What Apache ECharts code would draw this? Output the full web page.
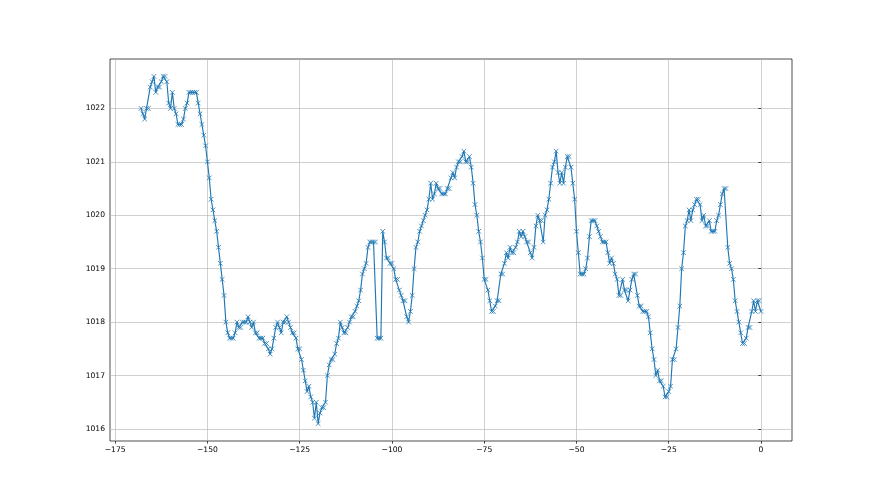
<!DOCTYPE html>
<html>
<head>
<meta charset="utf-8">
<script src="https://cdn.jsdelivr.net/npm/echarts@6/dist/echarts.min.js"></script>
<style>
html,body{margin:0;padding:0;background:#fff;}
#chart{width:880px;height:495px;}
</style>
</head>
<body>
<div id="chart"></div>
<script>
// Half-hourly readings, hours relative to now (-168 .. 0)
const startHour = -168;
const stepHour = 0.5;
const day1 = [1022.0,1021.9,1021.8,1022.0,1022.0,1022.4,1022.5,1022.6,1022.3,1022.4,
  1022.4,1022.5,1022.6,1022.6,1022.5,1022.1,
  1022.0,1022.3,1022.0,1021.9,
  1021.7,1021.7,1021.7,1021.8,
  1022.0,1022.1,1022.3,1022.3,
  1022.3,1022.3,1022.3,1022.1,
  1021.9,1021.7,1021.5,1021.3,
  1021.0,1020.7,1020.3,1020.1,
  1019.9,1019.7,1019.4,1019.1,
  1018.8,1018.5,1018.0,1017.8];
const day2 = [1017.7,1017.7,1017.7,1017.8,
  1018.0,1017.9,1017.9,1018.0,
  1018.0,1018.0,1018.1,1018.0,
  1017.9,1018.0,1017.8,1017.8,
  1017.7,1017.7,1017.7,1017.6,
  1017.6,1017.5,1017.4,1017.5,
  1017.7,1017.9,1018.0,1017.9,
  1017.8,1018.0,1018.0,1018.1,
  1018.0,1017.9,1017.8,1017.8,
  1017.7,1017.5,1017.5,1017.3,
  1017.1,1016.9,1016.7,1016.8,
  1016.6,1016.5,1016.2,1016.5];
const day3 = [1016.1,1016.3,1016.4,1016.4,
  1016.5,1017.0,1017.2,1017.3,
  1017.3,1017.4,1017.6,1017.7,
  1018.0,1017.9,1017.8,1017.8,
  1017.9,1018.0,1018.1,1018.1,
  1018.2,1018.3,1018.4,1018.6,
  1018.9,1019.0,1019.1,1019.4,
  1019.5,1019.5,1019.5,1019.5,
  1017.7,1017.7,1017.7,1019.7,
  1019.5,1019.2,1019.2,1019.1,
  1019.1,1019.0,1018.8,1018.8,
  1018.6,1018.5,1018.4,1018.4];
const day4 = [1018.1,1018.0,1018.2,1018.5,
  1019.0,1019.4,1019.5,1019.7,
  1019.8,1019.9,1020.0,1020.1,
  1020.3,1020.6,1020.3,1020.4,
  1020.6,1020.5,1020.5,1020.4,
  1020.4,1020.4,1020.5,1020.5,
  1020.7,1020.8,1020.7,1020.9,
  1021.0,1021.0,1021.1,1021.2,
  1021.0,1021.0,1021.1,1020.9,
  1020.6,1020.2,1020.0,1019.7,
  1019.5,1019.2,1018.8,1018.8,
  1018.6,1018.4,1018.2,1018.2];
const day5 = [1018.3,1018.4,1018.4,1018.9,
  1018.9,1019.1,1019.3,1019.2,
  1019.4,1019.3,1019.3,1019.4,
  1019.5,1019.7,1019.6,1019.7,
  1019.6,1019.5,1019.5,1019.3,
  1019.2,1019.4,1019.8,1020.0,
  1019.9,1019.9,1019.5,1020.0,
  1020.1,1020.3,1020.6,1020.9,
  1021.0,1021.2,1020.8,1020.6,
  1020.8,1020.6,1020.9,1021.1,
  1021.1,1020.9,1020.6,1020.3,
  1019.7,1019.3,1018.9,1018.9];
const day6 = [1018.9,1019.0,1019.2,1019.6,
  1019.9,1019.9,1019.9,1019.8,
  1019.7,1019.6,1019.5,1019.5,
  1019.5,1019.3,1019.1,1019.2,
  1019.1,1018.9,1018.8,1018.5,
  1018.5,1018.8,1018.6,1018.6,
  1018.4,1018.6,1018.8,1018.9,
  1018.9,1018.5,1018.3,1018.3,
  1018.2,1018.2,1018.2,1018.1,
  1017.8,1017.5,1017.3,1017.0,
  1017.1,1016.9,1016.9,1016.8,
  1016.6,1016.6,1016.7,1016.8];
const day7 = [1017.3,1017.3,1017.5,1017.9,
  1018.3,1019.0,1019.3,1019.8,
  1019.9,1020.1,1019.9,1020.1,
  1020.2,1020.3,1020.3,1020.2,
  1019.9,1020.0,1019.8,1019.8,
  1019.9,1019.7,1019.7,1019.7,
  1019.9,1020.0,1020.2,1020.4,
  1020.5,1020.5,1019.4,1019.1,
  1019.0,1018.8,1018.4,1018.2,
  1018.0,1017.8,1017.6,1017.6,
  1017.7,1017.9,1017.9,1018.2,
  1018.4,1018.2,1018.4,1018.4,
  1018.2];
const xTicks = [-175,-150,-125,-100,-75,-50,-25,0];
const yTicks = [1016,1017,1018,1019,1020,1021,1022];

const pressure = [].concat(day1,day2,day3,day4,day5,day6,day7);
const seriesData = pressure.map((v,i)=>[startHour + i*stepHour, v]);

const minus = s => String(s).replace('-', '\u2212');
const chart = echarts.init(document.getElementById('chart'), null, {renderer:'canvas'});
const font = 'DejaVu Sans';
chart.setOption({
  animation:false,
  backgroundColor:'#ffffff',
  grid:{left:110,right:88,top:59,bottom:54,show:true,borderColor:'#000',borderWidth:0.7,backgroundColor:'transparent'},
  xAxis:{
    type:'value', min:-176.4, max:8.4,
    axisLine:{show:false},
    axisTick:{show:true,customValues:xTicks,length:2.7,lineStyle:{color:'#000',width:0.7}},
    axisLabel:{customValues:xTicks,margin:5,color:'#000',fontFamily:font,fontSize:7.6,formatter:v=>minus(v)},
    splitLine:{show:true,lineStyle:{color:'#b0b0b0',width:0.6}}
  },
  yAxis:{
    type:'value', min:1015.775, max:1022.925,
    axisLine:{show:false},
    axisTick:{show:true,customValues:yTicks,length:2.7,lineStyle:{color:'#000',width:0.7}},
    axisLabel:{customValues:yTicks,margin:5,color:'#000',fontFamily:font,fontSize:7.6,formatter:v=>String(v)},
    splitLine:{show:true,lineStyle:{color:'#b0b0b0',width:0.6}}
  },
  series:[{
    type:'line',
    data:seriesData,
    showAllSymbol:true,
    symbol:'path://M0,0L10,10M10,0L0,10',
    symbolSize:4.6,
    lineStyle:{color:'#1f77b4',width:1.15},
    itemStyle:{color:'#1f77b4',borderColor:'#1f77b4',borderWidth:0.8},
    emphasis:{disabled:true}
  }]
});
</script>
</body>
</html>
